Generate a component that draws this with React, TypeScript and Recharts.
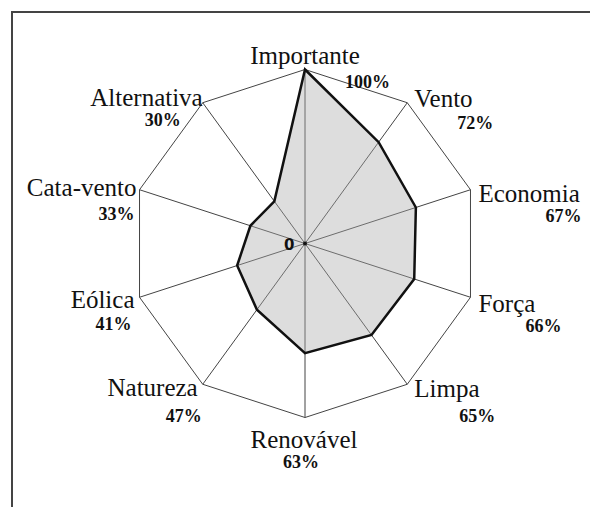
import React from 'react';
import { RadarChart, Radar, PolarGrid, PolarAngleAxis, PolarRadiusAxis } from 'recharts';

const categories = ['Importante', 'Vento', 'Economia', 'Força', 'Limpa', 'Renovável', 'Natureza', 'Eólica', 'Cata-vento', 'Alternativa'];
const percents = [100, 72, 67, 66, 65, 63, 47, 41, 33, 30];

const data = categories.map((name, i) => ({ name, value: percents[i] }));

const CX = 305;
const CY = 243.5;
const R = 174;

const serif = { fontFamily: '"Liberation Serif", "Times New Roman", serif' };

// label offsets from each outer vertex: [name dx, name dy, anchor, pct dx, pct dy, anchor]
const labelLayout: [number, number, string, number, number, string][] = [
  [0, -6, 'middle', 40, 18, 'start'],
  [7, 4, 'start', 86, 26, 'end'],
  [8, 12, 'start', 111, 32, 'end'],
  [8, 15, 'start', 91, 35, 'end'],
  [7, 13, 'start', 88, 38, 'end'],
  [-1, 30, 'middle', -4, 50, 'middle'],
  [-5, 12, 'end', -1, 38, 'end'],
  [-5, 11, 'end', -8, 33, 'end'],
  [-3, 6, 'end', -5, 30, 'end'],
  [0, 3, 'end', -22, 23, 'end'],
];

const AngleTick = (props: any) => {
  const { payload } = props;
  const i = categories.indexOf(payload.value);
  const ang = (payload.coordinate * Math.PI) / 180;
  const vx = CX + Math.cos(ang) * R;
  const vy = CY - Math.sin(ang) * R;
  const [ndx, ndy, na, pdx, pdy, pa] = labelLayout[i];
  return (
    <g>
      <text x={vx + ndx} y={vy + ndy} textAnchor={na as any} style={{ ...serif, fontSize: 25 }} fill="#111">
        {payload.value}
      </text>
      <text x={vx + pdx} y={vy + pdy} textAnchor={pa as any} style={{ ...serif, fontSize: 18, fontWeight: 'bold' }} fill="#111">
        {percents[i]}%
      </text>
    </g>
  );
};

const RadiusTick = (props: any) => {
  const { x, y, payload } = props;
  if (payload.value !== 0) return <g />;
  return (
    <g>
      <circle cx={x} cy={y} r={2} fill="#111" />
      <text x={x - 21} y={y + 6} style={{ fontFamily: '"DejaVu Sans", sans-serif', fontSize: 15, fontWeight: 'bold' }} fill="#111">
        {payload.value}
      </text>
    </g>
  );
};

export default function App() {
  return (
    <div style={{ position: 'absolute', left: 0, top: 0, width: 590, height: 507, background: '#fff', overflow: 'hidden' }}>
      <div style={{ position: 'absolute', left: 11, top: 11, width: 620, height: 540, borderTop: '2px solid #444', borderLeft: '2px solid #444' }} />
      <div style={{ position: 'absolute', left: 0, top: 0 }}>
        <RadarChart width={590} height={507} cx={CX} cy={CY} outerRadius={R} data={data} margin={{ top: 0, right: 0, bottom: 0, left: 0 }}>
          <PolarGrid gridType="polygon" polarRadius={[R]} stroke="#444" strokeWidth={1} />
          <PolarAngleAxis dataKey="name" tick={AngleTick} tickLine={false} axisLine={false} />
          <PolarRadiusAxis angle={90} domain={[0, 100]} tickCount={2} tick={RadiusTick} axisLine={false} tickLine={false} />
          <Radar dataKey="value" stroke="#111" strokeWidth={2.5} fill="#aaa" fillOpacity={0.4} isAnimationActive={false} />
        </RadarChart>
      </div>
    </div>
  );
}
